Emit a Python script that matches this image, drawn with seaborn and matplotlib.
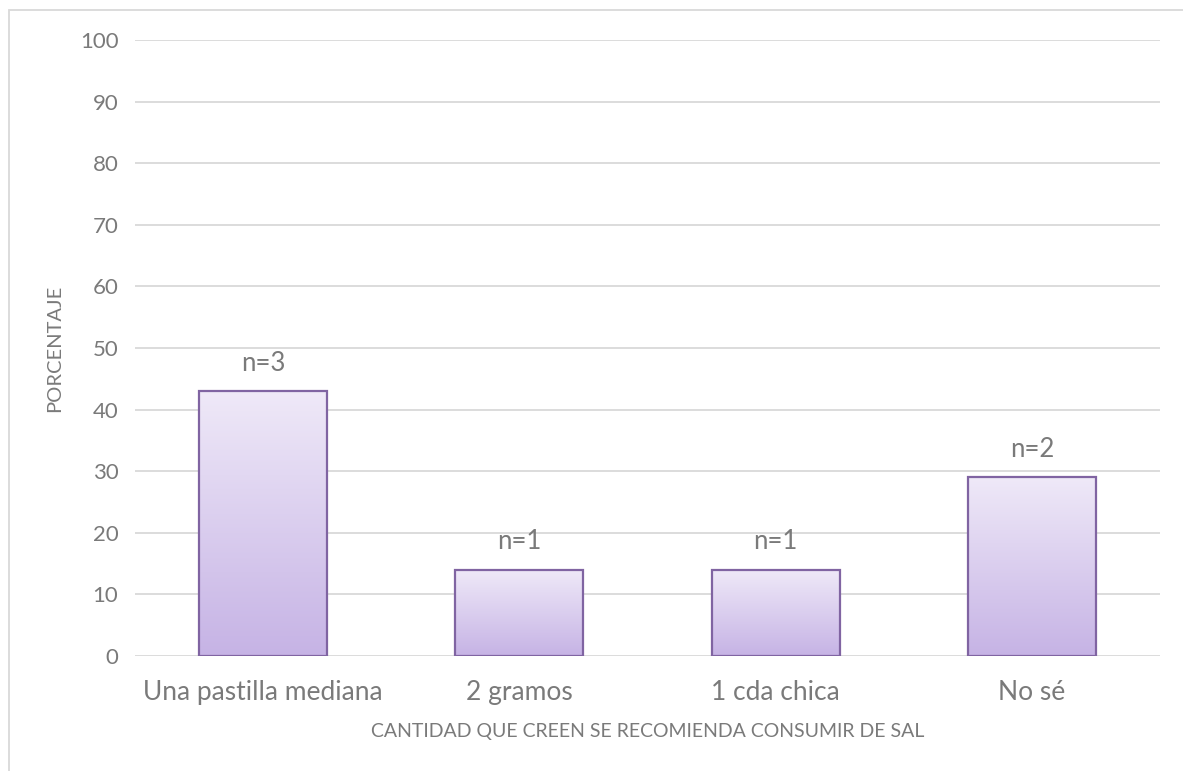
import numpy as np
import pandas as pd
import matplotlib
matplotlib.use("Agg")
import matplotlib.pyplot as plt
import seaborn as sns
from matplotlib.colors import LinearSegmentedColormap
from matplotlib.patches import Rectangle

categories = ["Una pastilla mediana", "2 gramos", "1 cda chica", "No sé"]
porcentaje = [43, 14, 14, 29]
n_labels = ["n=3", "n=1", "n=1", "n=2"]
y_ticks = [0, 10, 20, 30, 40, 50, 60, 70, 80, 90, 100]

sns.set_theme(style="white")
plt.rcParams["font.family"] = ["Lato", "DejaVu Sans"]

text_color = "#7a7a7a"
grid_color = "#d9d9d9"
edge_color = "#8064a2"

df = pd.DataFrame({"cat": categories, "pct": porcentaje})

fig = plt.figure(figsize=(11.83, 7.71), dpi=100)
ax = fig.add_axes([135 / 1183, 1 - 656 / 771, 1025 / 1183, 616 / 771])

sns.barplot(data=df, x="cat", y="pct", ax=ax, width=0.5,
            color="#d9cdee", edgecolor=edge_color, linewidth=1.6, zorder=3)

ax.set_ylim(0, 100)
ax.set_yticks(y_ticks)
ax.yaxis.grid(True, color=grid_color, linewidth=1.3, zorder=0)
ax.set_axisbelow(True)
for s in ax.spines.values():
    s.set_visible(False)
ax.tick_params(axis="both", length=0, colors=text_color)
ax.tick_params(axis="y", pad=12, labelsize=16)
ax.tick_params(axis="x", pad=17.5, labelsize=19)

# vertical gradient fill inside each bar
cmap = LinearSegmentedColormap.from_list("lav", ["#c6b3e5", "#efe9f8"])
grad = np.linspace(0, 1, 256).reshape(-1, 1)
for bar, lab in zip(ax.patches, n_labels):
    x0, w = bar.get_x(), bar.get_width()
    h = bar.get_height()
    bar.set_facecolor("none")
    im = ax.imshow(grad, cmap=cmap, origin="lower", aspect="auto",
                   extent=[x0, x0 + w, 0, h], zorder=2.5)
    im.set_clip_path(bar)
    ax.annotate(lab, (x0 + w / 2, h), xytext=(0, 11), textcoords="offset points",
                ha="center", va="bottom", color=text_color, fontsize=18.5)
ax.set_xlim(-0.5, 3.5)

ax.set_xlabel("CANTIDAD QUE CREEN SE RECOMIENDA CONSUMIR DE SAL",
              color=text_color, fontsize=14, labelpad=13)
ax.set_ylabel("PORCENTAJE", color=text_color, fontsize=14.5, labelpad=12)

# chart-area border
fig.patches.append(Rectangle((9 / 1183, -0.1), 1.2, 1 - 10 / 771 + 0.1,
                             transform=fig.transFigure, fill=False,
                             edgecolor=grid_color, linewidth=1.3))

fig.savefig("out.png", dpi=100, facecolor="white")
